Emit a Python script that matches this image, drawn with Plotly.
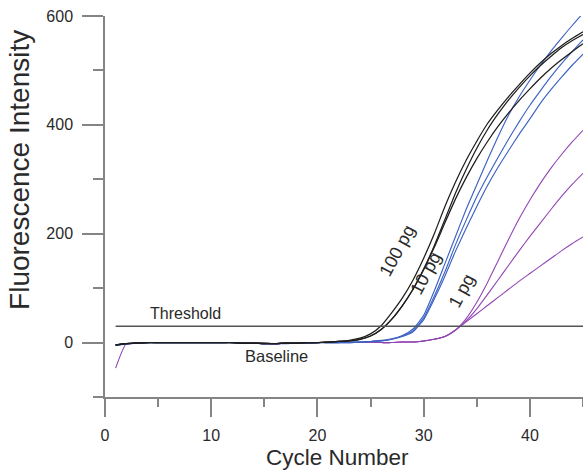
import plotly.graph_objects as go

# Cycle numbers 1..45
cycles = list(range(1, 46))

# Amplification curves (fluorescence per cycle), three replicates per template amount
pg100_a = [-4, -2, -1, 0, 0, 0, 0, 0, 0, 0, 0, 0, -1, -1, -1, -2, -1, -1, 0, 0,
           1, 2, 4, 8, 16, 31, 55, 82, 115, 155, 200, 250, 295, 335, 370, 402, 428, 452, 474, 495,
           514, 531, 546, 559, 571]
pg100_b = [-5, -2, -1, 0, 0, 0, 0, 0, 0, 0, 0, 0, -1, -1, -2, -2, -1, -1, 0, 0,
           1, 2, 3, 6, 12, 24, 43, 68, 98, 135, 178, 226, 275, 318, 357, 391, 420, 446, 469, 490,
           509, 526, 542, 555, 566]
pg100_c = [-4, -2, -1, 0, 0, 0, 0, 0, 0, 0, 0, 0, -1, -1, -2, -2, -1, -1, 0, 0,
           1, 2, 3, 6, 12, 24, 43, 68, 98, 134, 175, 220, 264, 303, 338, 369, 397, 422, 445, 466,
           486, 504, 520, 535, 549]

pg10_a = [-5, -3, -1, 0, 0, 0, 0, 0, 0, 0, 0, 0, -1, -1, -2, -2, -2, -1, -1, 0,
          0, 0, 1, 1, 2, 4, 7, 13, 25, 50, 95, 145, 195, 245, 290, 335, 378, 418, 452, 482,
          510, 536, 560, 583, 605]
pg10_b = [-5, -2, -1, 0, 0, 0, 0, 0, 0, 0, 0, 0, -1, -1, -2, -2, -1, -1, -1, 0,
          0, 0, 0, 1, 2, 3, 6, 12, 22, 45, 85, 130, 180, 225, 268, 305, 340, 374, 406, 436,
          463, 489, 513, 535, 556]
pg10_c = [-4, -2, -1, 0, 0, 0, 0, 0, 0, 0, 0, 0, -1, -1, -2, -2, -1, -1, -1, 0,
          0, 0, 0, 1, 2, 3, 6, 11, 20, 42, 80, 122, 168, 210, 250, 288, 322, 353, 383, 411,
          440, 465, 488, 510, 530]

pg1_a = [-4, -2, -1, 0, 0, 0, 0, 0, 0, 0, 0, 0, -1, -1, -1, -2, -1, -1, -1, 0,
         0, 0, 0, 0, 0, 0, 0, 1, 1, 3, 6, 11, 23, 44, 74, 110, 150, 190, 228, 262,
         293, 321, 346, 369, 390]
pg1_b = [-5, -2, -1, 0, 0, 0, 0, 0, 0, 0, 0, 0, -1, -1, -2, -2, -1, -1, -1, 0,
         0, 0, 0, 0, 0, 0, 0, 1, 1, 3, 6, 11, 23, 40, 62, 88, 115, 142, 169, 195,
         220, 245, 269, 291, 311]
pg1_c = [-47, -2, -1, 0, 0, 0, 0, 0, 0, 0, 0, 0, -1, -1, -2, -2, -1, -1, -1, 0,
         0, 0, 0, 0, 0, 0, 0, 1, 1, 3, 6, 11, 23, 38, 53, 68, 83, 98, 113, 127,
         141, 155, 169, 182, 194]

threshold = 30
threshold_span = [1, 45]

# Annotation text and anchor positions (data units)
curve_labels = ["100 pg", "10 pg", "1 pg"]
label_x = [27.5, 30.2, 33.55]
label_y = [168, 128, 95]

BLACK = "#1e1e1e"
BLUE = "#3d62c4"
PURPLE = "#9146b5"
AXIS = "#858585"
TEXT = "#2a2a2a"
FONT = "Liberation Sans, Arial, sans-serif"

fig = go.Figure()

groups = [
    ([pg100_a, pg100_b, pg100_c], BLACK, 1.25),
    ([pg10_a, pg10_b, pg10_c], BLUE, 1.15),
    ([pg1_a, pg1_b, pg1_c], PURPLE, 1.1),
]
for series, color, width in reversed(groups):
    for s in series:
        fig.add_trace(go.Scatter(x=cycles, y=s, mode="lines",
                                 line=dict(color=color, width=width, shape="spline", smoothing=0.5),
                                 showlegend=False, hoverinfo="skip"))

# Threshold line
fig.add_trace(go.Scatter(x=threshold_span, y=[threshold, threshold], mode="lines",
                         line=dict(color="#555555", width=1.3),
                         showlegend=False, hoverinfo="skip"))

annotations = [
    dict(x=7.6, y=54, text="Threshold", showarrow=False,
         font=dict(size=16, color=TEXT, family=FONT)),
    dict(x=16.1, y=-25, text="Baseline", showarrow=False,
         font=dict(size=16.5, color=TEXT, family=FONT)),
    dict(xref="paper", yref="paper", x=0.487, y=0, yshift=-60, text="Cycle Number",
         xanchor="center", yanchor="middle",
         showarrow=False, font=dict(size=22.5, color=TEXT, family=FONT)),
    dict(xref="paper", yref="paper", x=0, y=0.596, xshift=-85, text="Fluorescence Intensity",
         xanchor="center", yanchor="middle",
         textangle=-90, showarrow=False, font=dict(size=28, color=TEXT, family=FONT)),
]
for t, lx, ly in zip(curve_labels, label_x, label_y):
    annotations.append(dict(x=lx, y=ly, text=t, textangle=-62, showarrow=False,
                            font=dict(size=18, color=TEXT, family=FONT)))

fig.update_layout(
    width=583, height=471,
    margin=dict(l=105, r=0, t=16, b=74),
    paper_bgcolor="white", plot_bgcolor="white",
    font=dict(family=FONT, color=TEXT),
    annotations=annotations,
    xaxis=dict(range=[0, 45], showgrid=False, zeroline=False,
               showline=True, linecolor=AXIS, linewidth=1.5,
               ticks="outside", ticklen=18, tickwidth=1.5, tickcolor=AXIS,
               tickvals=[0, 10, 20, 30, 40], ticktext=["0", "10", "20", "30", "40"],
               ticklabelstandoff=5,
               tickfont=dict(size=16, color=TEXT, family=FONT),
               minor=dict(ticks="outside", ticklen=8, tickwidth=1.5, tickcolor=AXIS,
                          tickvals=[5, 15, 25, 35, 45])),
    yaxis=dict(range=[-100, 600], showgrid=False, zeroline=False,
               showline=True, linecolor=AXIS, linewidth=1.5,
               ticks="outside", ticklen=21, tickwidth=1.5, tickcolor=AXIS,
               tickvals=[0, 200, 400, 600], ticktext=["0", "200", "400", "600"],
               ticklabelstandoff=6,
               tickfont=dict(size=16, color=TEXT, family=FONT),
               minor=dict(ticks="outside", ticklen=10, tickwidth=1.5, tickcolor=AXIS,
                          tickvals=[-100, 100, 300, 500])),
)

fig.write_html("out.html")
